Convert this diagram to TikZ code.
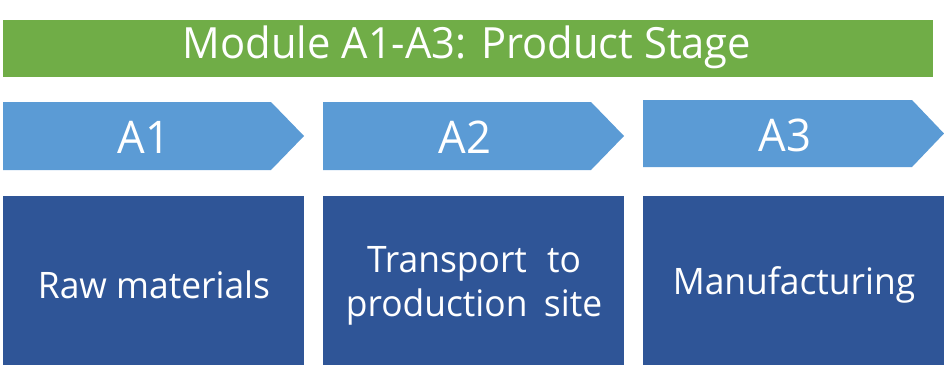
\documentclass[tikz,border=0pt]{standalone}
\usepackage{fontspec}
\setmainfont{Open Sans}[FakeStretch=0.97]
\definecolor{stagegreen}{HTML}{70AD47}
\definecolor{arrowblue}{HTML}{5B9BD5}
\definecolor{boxblue}{HTML}{2F5597}
\begin{document}
\begin{tikzpicture}[x=1pt,y=-1pt,
  lbl/.style={text=white,inner sep=0pt,align=center},
  titletext/.style={lbl,font=\fontsize{43}{48}\selectfont},
  arrowtext/.style={lbl,font=\fontsize{45}{48}\selectfont},
  boxtext/.style={lbl,font=\fontsize{36.5}{44}\selectfont},
  bar/.style={fill=stagegreen},
  chevron/.style={fill=arrowblue},
  stepbox/.style={fill=boxblue}]
\useasboundingbox (0,0) rectangle (944,369);
% title bar
\fill[bar] (3,20) rectangle (933,77);
\node[titletext] (title) at (467,47) {Module A1-A3: Product Stage};
% chevrons
\fill[chevron] (3,102) -- (271,102) -- (304,136) -- (271,170) -- (3,170) -- cycle;
\fill[chevron] (323,102) -- (591,102) -- (624,136) -- (591,170) -- (323,170) -- cycle;
\fill[chevron] (643,100) -- (912,100) -- (944,133.5) -- (912,167) -- (643,167) -- cycle;
\node[arrowtext] (a1) at (144,137) {A1};
\node[arrowtext] (a2) at (465,137) {A2};
\node[arrowtext] (a3) at (785,135) {A3};
% boxes
\fill[stepbox] (3,196) rectangle (304,365);
\fill[stepbox] (323,196) rectangle (624,365);
\fill[stepbox] (643,196) rectangle (944,365);
\node[boxtext] (b1) at (154,285) {Raw materials};
\node[boxtext] (b2) at (474,286) {Transport\hspace{0.3em} to\\production\hspace{0.2em} site};
\node[boxtext] (b3) at (794,285) {Manufacturing};
\end{tikzpicture}
\end{document}
